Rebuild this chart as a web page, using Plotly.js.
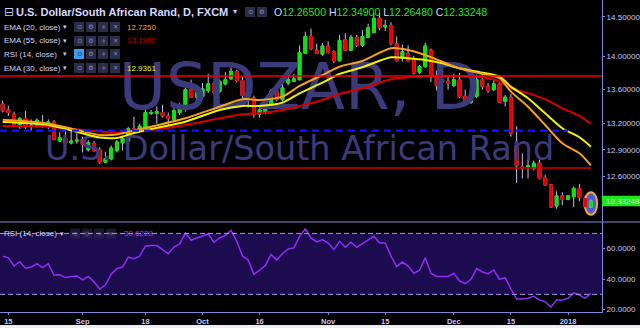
<!DOCTYPE html>
<html><head><meta charset="utf-8">
<script src="https://cdn.plot.ly/plotly-3.0.1.min.js"></script>
<style>html,body{margin:0;padding:0;background:#ececf4;}#chart{width:640px;height:328px;}</style>
</head><body><div id="chart"></div>
<script>
// ---------------- DATA ----------------
const dates = [
 '2017-08-14','2017-08-15','2017-08-16','2017-08-17','2017-08-18','2017-08-21','2017-08-22','2017-08-23','2017-08-24','2017-08-25',
 '2017-08-28','2017-08-29','2017-08-30','2017-08-31','2017-09-01','2017-09-04','2017-09-05','2017-09-06','2017-09-07','2017-09-08',
 '2017-09-11','2017-09-12','2017-09-13','2017-09-14','2017-09-15','2017-09-18','2017-09-19','2017-09-20','2017-09-21','2017-09-22',
 '2017-09-25','2017-09-26','2017-09-27','2017-09-28','2017-09-29','2017-10-02','2017-10-03','2017-10-04','2017-10-05','2017-10-06',
 '2017-10-09','2017-10-10','2017-10-11','2017-10-12','2017-10-13','2017-10-16','2017-10-17','2017-10-18','2017-10-19','2017-10-20',
 '2017-10-23','2017-10-24','2017-10-25','2017-10-26','2017-10-27','2017-10-30','2017-10-31','2017-11-01','2017-11-02','2017-11-03',
 '2017-11-06','2017-11-07','2017-11-08','2017-11-09','2017-11-10','2017-11-13','2017-11-14','2017-11-15','2017-11-16','2017-11-17',
 '2017-11-20','2017-11-21','2017-11-22','2017-11-23','2017-11-24','2017-11-27','2017-11-28','2017-11-29','2017-11-30','2017-12-01',
 '2017-12-04','2017-12-05','2017-12-06','2017-12-07','2017-12-08','2017-12-11','2017-12-12','2017-12-13','2017-12-14','2017-12-15',
 '2017-12-18','2017-12-19','2017-12-20','2017-12-21','2017-12-22','2017-12-26','2017-12-27','2017-12-28','2017-12-29','2018-01-02',
 '2018-01-03','2018-01-04','2018-01-05','2018-01-08'];
const open = [13.43,13.36,13.31,13.18,13.26,13.17,13.18,13.20,13.17,13.22,
 13.00,13.03,12.98,13.00,13.02,12.90,12.97,12.90,12.76,12.80,
 12.89,12.98,13.00,13.14,13.12,13.13,13.32,13.32,13.33,13.29,
 13.25,13.33,13.37,13.60,13.51,13.52,13.59,13.67,13.58,13.67,
 13.73,13.82,13.71,13.55,13.50,13.31,13.33,13.40,13.58,13.48,
 13.68,13.70,13.72,14.04,14.25,14.08,14.03,14.13,14.06,13.95,
 14.21,14.08,14.24,14.14,14.24,14.30,14.48,14.37,14.39,14.16,
 13.98,14.04,13.97,13.81,13.88,14.08,13.76,13.72,13.70,13.65,
 13.72,13.52,13.45,13.52,13.72,13.64,13.60,13.67,13.46,13.51,
 12.95,12.71,12.71,12.69,12.75,12.59,12.51,12.28,12.39,12.35,
 12.38,12.47,12.36,12.265];
const high = [13.47,13.41,13.34,13.28,13.35,13.25,13.26,13.30,13.25,13.24,
 13.10,13.14,13.12,13.09,13.05,13.01,13.00,12.93,12.88,12.95,
 13.01,13.05,13.16,13.28,13.20,13.37,13.36,13.40,13.42,13.33,
 13.38,13.44,13.62,13.72,13.64,13.68,13.79,13.70,13.72,13.81,
 13.87,13.84,13.75,13.58,13.53,13.42,13.50,13.61,13.62,13.75,
 13.76,13.79,14.14,14.31,14.35,14.16,14.17,14.19,14.08,14.27,
 14.29,14.27,14.27,14.33,14.41,14.55,14.55,14.46,14.43,14.25,
 14.15,14.14,14.01,13.90,14.17,14.10,13.83,13.77,13.75,13.79,
 13.80,13.60,13.56,13.78,13.77,13.68,13.72,13.70,13.54,13.55,
 13.17,12.86,12.80,12.78,12.79,12.62,12.52,12.44,12.43,12.40,
 12.49,12.52,12.39,12.349];
const low = [13.33,13.29,13.17,13.14,13.14,13.12,13.16,13.15,13.14,13.01,
 12.99,12.97,12.96,12.97,12.87,12.88,12.88,12.74,12.75,12.78,
 12.87,12.89,12.98,13.11,13.10,13.12,13.30,13.20,13.27,13.18,
 13.22,13.30,13.34,13.50,13.46,13.50,13.56,13.55,13.56,13.65,
 13.72,13.69,13.50,13.39,13.27,13.27,13.31,13.38,13.46,13.46,
 13.65,13.69,13.71,14.03,14.08,14.03,14.01,14.04,13.92,13.94,
 14.07,14.07,14.12,14.12,14.23,14.29,14.33,14.32,14.14,13.94,
 13.94,13.94,13.78,13.79,13.86,13.69,13.59,13.59,13.60,13.63,
 13.50,13.44,13.43,13.50,13.60,13.56,13.58,13.44,13.40,13.05,
 12.53,12.58,12.58,12.67,12.57,12.50,12.26,12.25,12.29,12.34,
 12.27,12.33,12.26,12.2648];
const close = [13.35,13.33,13.19,13.26,13.16,13.18,13.24,13.18,13.22,13.02,
 13.04,12.98,13.00,13.01,12.96,12.98,12.89,12.76,12.80,12.92,
 12.99,13.03,13.14,13.12,13.17,13.33,13.33,13.34,13.29,13.26,
 13.35,13.39,13.60,13.51,13.57,13.61,13.67,13.57,13.70,13.72,
 13.82,13.71,13.53,13.49,13.31,13.36,13.45,13.58,13.48,13.62,
 13.72,13.73,14.05,14.25,14.10,14.04,14.13,14.05,13.95,14.20,
 14.08,14.24,14.14,14.25,14.36,14.48,14.36,14.39,14.16,13.95,
 14.06,13.95,13.80,13.88,14.13,13.76,13.65,13.69,13.68,13.72,
 13.52,13.45,13.52,13.72,13.64,13.59,13.67,13.45,13.51,13.09,
 12.72,12.70,12.72,12.75,12.58,12.51,12.27,12.39,12.35,12.39,
 12.47,12.37,12.27,12.33248];
// EMA values read at these bar indices
const emaIdx = [0,8,13,17,20,23,26,32,38,42,45,49,52,56,59,63,68,71,74,77,80,84,87,89,92,95,98,101,103];
const ema20 = [13.245,13.200,13.127,13.070,13.075,13.120,13.165,13.263,13.398,13.486,13.478,13.517,13.644,13.776,13.877,13.947,14.103,14.082,14.020,13.938,13.858,13.789,13.737,13.576,13.398,13.185,12.975,12.861,12.7250];
const ema30 = [13.220,13.185,13.105,13.040,13.035,13.092,13.139,13.223,13.360,13.407,13.407,13.446,13.557,13.684,13.789,13.870,13.992,13.980,13.959,13.919,13.858,13.804,13.756,13.636,13.498,13.321,13.147,13.043,12.9361];
const ema55 = [13.173,13.165,13.133,13.110,13.098,13.110,13.127,13.185,13.263,13.309,13.321,13.360,13.407,13.478,13.549,13.617,13.725,13.749,13.764,13.768,13.764,13.749,13.696,13.617,13.557,13.486,13.380,13.290,13.1992];
const rsi = [55.1,54.0,48.6,51.4,47.1,47.9,50.1,47.5,50.1,42.5,
 42.8,41.0,41.7,42.1,39.5,41.7,38.2,33.5,36.1,43.2,
 46.9,47.9,54.4,53.4,55.1,61.6,62.0,62.0,59.4,56.6,
 61.1,63.1,70.2,65.5,67.0,68.5,69.8,64.2,67.0,68.7,
 72.0,64.8,55.1,52.5,43.2,45.8,49.0,56.2,52.5,56.8,
 59.8,60.5,68.1,73.0,67.0,64.4,65.9,63.7,59.4,64.8,
 60.9,64.2,60.9,63.3,65.9,68.1,63.7,63.7,55.1,48.2,
 51.2,48.6,43.8,45.8,54.0,43.8,41.7,41.5,41.7,43.8,
 38.9,37.1,39.9,46.9,44.7,43.6,46.0,39.9,41.0,33.5,
 27.0,27.0,27.4,28.7,26.3,25.2,21.6,26.3,26.3,27.4,
 30.9,29.6,27.4,30.6228];
const redLevels = [13.765, 12.697];
const blueLevel = 13.12;
const rsiBand = [30, 70];
const xTickDates = ['2017-08-15','2017-09-01','2017-09-18','2017-10-02','2017-10-16','2017-11-01','2017-11-15','2017-12-01','2017-12-15','2018-01-02'];
const xTickText = ['15','Sep','18','Oct','16','Nov','15','Dec','15','2018'];
const priceTicks = [12.6,12.9,13.2,13.6,14.0,14.5];
const rsiTicks = [20,40,60];

// ---------------- LAYOUT HELPERS ----------------
const W = 602, H = 312, SPLIT = 222, PAGE_H = 328;
const px = p => p / W;
const py = p => 1 - p / H;
const splitFrac = 1 - SPLIT / H;
const yRange = [Math.log10(12.108), Math.log10(14.714)];
const FONT = 'Liberation Sans, Arial, sans-serif';
const LAV = '#c8c8f4';
const AXIS = '#8484d8';
const last = dates.length - 1;

const shapes = [];
const annotations = [];
function label(text, x, y, size, color, extra) {
  annotations.push(Object.assign({xref:'paper', yref:'paper', x:px(x), y:py(y), xanchor:'left', yanchor:'middle',
    text:text, showarrow:false, font:{family:FONT, size:size, color:color}}, extra || {}));
}
function icons(x0, yc, n, highlight, dim) {
  const glyphs = ['⊙','⚙','+','✕'];
  for (let i = 0; i < n; i++) {
    const x = x0 + i * 12;
    shapes.push({type:'rect', xref:'paper', yref:'paper', x0:px(x), x1:px(x+10), y0:py(yc+5), y1:py(yc-5),
      fillcolor:(highlight && i===0) ? '#3b9cf2' : '#2b2b4a', line:{width:0}, opacity: dim ? 0.55 : 1, layer:'above'});
    annotations.push({xref:'paper', yref:'paper', x:px(x+5), y:py(yc), xanchor:'center', yanchor:'middle', text:glyphs[i],
      showarrow:false, font:{family:'DejaVu Sans', size:6.5, color:(highlight && i===0) ? '#10305a' : '#8a8ab0'}, opacity: dim ? 0.6 : 1});
  }
}
// header
label('⊟', 2, 12, 12, LAV, {font:{family:'DejaVu Sans', size:12, color:LAV}});
label('<b>U.S. Dollar/South African Rand, D, FXCM</b>', 14, 12, 11, '#d8d8ff');
label('▾', 231, 12, 8, LAV, {font:{family:'DejaVu Sans', size:8, color:LAV}});
icons(245, 12, 2, false, false);
const f5 = v => v.toFixed(5);
const ohlc = [['O', open[last]], ['H', high[last]], ['L', low[last]], ['C', close[last]]]
  .map(p => '<span style="color:#d8d8ff">' + p[0] + '</span><span style="color:#1ee61e">' + f5(p[1]) + '</span>').join(' ');
label(ohlc, 272, 12, 10.5, '#1ee61e');
// indicator legend rows
const rows = [
  ['EMA (20, close)', 27, ema20[ema20.length-1].toFixed(4), '#f0a028', false],
  ['EMA (55, close)', 41, ema55[ema55.length-1].toFixed(4), '#b40000', false],
  ['RSI (14, close)', 54, null, null, true],
  ['EMA (30, close)', 68, ema30[ema30.length-1].toFixed(4), '#f2f200', false]
];
rows.forEach(r => {
  label(r[0], 2, r[1], 8, '#d4d4f6');
  label('▾', 61, r[1], 7, LAV, {font:{family:'DejaVu Sans', size:7, color:LAV}});
  icons(74, r[1], 4, r[4], false);
  if (r[2]) label(r[2], 125, r[1], 8, r[3]);
});
// RSI pane legend
label('RSI (14, close)', 2, 233.5, 8, '#d4d4f6');
label('▾', 58, 233.5, 7, LAV, {font:{family:'DejaVu Sans', size:7, color:LAV}});
icons(70, 233.5, 4, false, true);
label(rsi[last].toFixed(4), 122, 233.5, 8, '#9040ff');

// level lines
shapes.push({type:'line', xref:'paper', yref:'y', x0:0, x1:1, y0:redLevels[0], y1:redLevels[0], line:{color:'#f00000', width:1.5}});
shapes.push({type:'line', xref:'paper', yref:'y', x0:0, x1:568/W, y0:blueLevel, y1:blueLevel, line:{color:'#1414ff', width:2.2, dash:'7px,5px'}});
shapes.push({type:'line', xref:'paper', yref:'y', x0:0, x1:591/W, y0:redLevels[1], y1:redLevels[1], line:{color:'#d00000', width:1.5}});
// RSI band
shapes.push({type:'rect', xref:'paper', yref:'y2', x0:0, x1:1, y0:rsiBand[0], y1:rsiBand[1], fillcolor:'#1d0b50', line:{width:0}, layer:'below'});
rsiBand.forEach(v => shapes.push({type:'line', xref:'paper', yref:'y2', x0:0, x1:1, y0:v, y1:v, line:{color:'#a89af0', width:1, dash:'5px,3px'}}));
// pane separator
shapes.push({type:'line', xref:'paper', yref:'paper', x0:0, x1:640/W, y0:splitFrac, y1:splitFrac, line:{color:AXIS, width:1}});
// bottom light strip of the screenshot frame
shapes.push({type:'rect', xref:'paper', yref:'paper', x0:-0.01, x1:650/W, y0:py(325), y1:py(PAGE_H+2), fillcolor:'#ececf4', line:{width:0}});
// last-bar highlight
shapes.push({type:'circle', xref:'x', yref:'y', x0:last-1.1, x1:last+1.1, y0:low[last]*0.9935, y1:high[last]*1.0065,
  fillcolor:'#4b5bd6', line:{color:'#f4a63a', width:2}, layer:'below'});
// last price tag
const tagPad = 1.0046;
shapes.push({type:'rect', xref:'paper', yref:'y', x0:1, x1:640/W, y0:close[last]/tagPad, y1:close[last]*tagPad, fillcolor:'#1ee61e', line:{width:0}});
annotations.push({xref:'paper', yref:'y', x:1.004, y:Math.log10(close[last]), xanchor:'left', yanchor:'middle', text:f5(close[last]),
  showarrow:false, font:{family:FONT, size:8, color:'#c8ffc8'}});

// watermark positions derived from axis range fractions
const wmY = frac => Math.pow(10, yRange[0] + frac * (yRange[1] - yRange[0]));
const wmX = dates[52];

const bodyHigh = open.map((o,i) => Math.max(o, close[i]));
const bodyLow = open.map((o,i) => Math.min(o, close[i]));
const emaX = emaIdx.map(i => dates[i]);

const traces = [
  {type:'scatter', mode:'text', x:[wmX], y:[wmY(1 - 93/SPLIT)], text:['USDZAR, D'], textposition:'middle center',
   textfont:{family:'DejaVu Sans', size:64.5, color:'#3b3b7c'}, hoverinfo:'skip', showlegend:false, cliponaxis:false},
  {type:'scatter', mode:'text', x:[wmX], y:[wmY(1 - 152/SPLIT)], text:['U.S. Dollar/South African Rand'], textposition:'middle center',
   textfont:{family:'DejaVu Sans', size:33.5, color:'#3b3b7c'}, hoverinfo:'skip', showlegend:false, cliponaxis:false},
  {type:'candlestick', x:dates, open:open, high:high, low:low, close:close, whiskerwidth:0,
   increasing:{line:{color:'#c0c0f0', width:1}, fillcolor:'#c0c0f0'},
   decreasing:{line:{color:'#c0c0f0', width:1}, fillcolor:'#c0c0f0'}, hoverinfo:'skip', showlegend:false},
  {type:'candlestick', x:dates, open:open, high:bodyHigh, low:bodyLow, close:close, whiskerwidth:0,
   increasing:{line:{color:'#10e010', width:1}, fillcolor:'#10e010'},
   decreasing:{line:{color:'#e80000', width:1}, fillcolor:'#e80000'}, hoverinfo:'skip', showlegend:false},
  {type:'scatter', mode:'lines', x:emaX, y:ema55, line:{color:'#d40000', width:2, shape:'spline', smoothing:0.8}, hoverinfo:'skip', showlegend:false},
  {type:'scatter', mode:'lines', x:emaX, y:ema30, line:{color:'#f2f200', width:2, shape:'spline', smoothing:0.8}, hoverinfo:'skip', showlegend:false},
  {type:'scatter', mode:'lines', x:emaX, y:ema20, line:{color:'#f5a020', width:2, shape:'spline', smoothing:0.8}, hoverinfo:'skip', showlegend:false},
  {type:'scatter', mode:'lines', x:dates, y:rsi, yaxis:'y2', line:{color:'#8f2cf6', width:1.5}, hoverinfo:'skip', showlegend:false}
];

const layout = {
  width:640, height:PAGE_H, margin:{l:0, r:640-W, t:0, b:PAGE_H-H},
  paper_bgcolor:'#000000', plot_bgcolor:'#000000', showlegend:false,
  xaxis:{type:'category', categoryorder:'array', categoryarray:dates, range:[-0.46, 104.95], anchor:'y2',
    rangeslider:{visible:false}, showgrid:false, zeroline:false, showline:true, linecolor:AXIS, linewidth:1,
    ticks:'outside', ticklen:2, tickcolor:AXIS, tickvals:xTickDates, ticktext:xTickText,
    tickfont:{family:FONT, size:7.5, color:LAV, weight:700}},
  yaxis:{type:'log', domain:[splitFrac, 1], range:yRange, side:'right', anchor:'x', showgrid:false, zeroline:false,
    showline:true, linecolor:AXIS, linewidth:1, ticks:'outside', ticklen:2, tickcolor:AXIS,
    tickvals:priceTicks, ticktext:priceTicks.map(v => v.toFixed(5)), tickfont:{family:FONT, size:8, color:LAV}},
  yaxis2:{domain:[0, splitFrac], range:[18.4, 77.5], side:'right', anchor:'x', showgrid:false, zeroline:false,
    showline:true, linecolor:AXIS, linewidth:1, ticks:'outside', ticklen:2, tickcolor:AXIS,
    tickvals:rsiTicks, ticktext:rsiTicks.map(v => v.toFixed(4)), tickfont:{family:FONT, size:8, color:LAV}},
  shapes:shapes, annotations:annotations, boxmode:'overlay'
};
Plotly.newPlot('chart', traces, layout, {staticPlot:true, displayModeBar:false});
</script></body></html>
